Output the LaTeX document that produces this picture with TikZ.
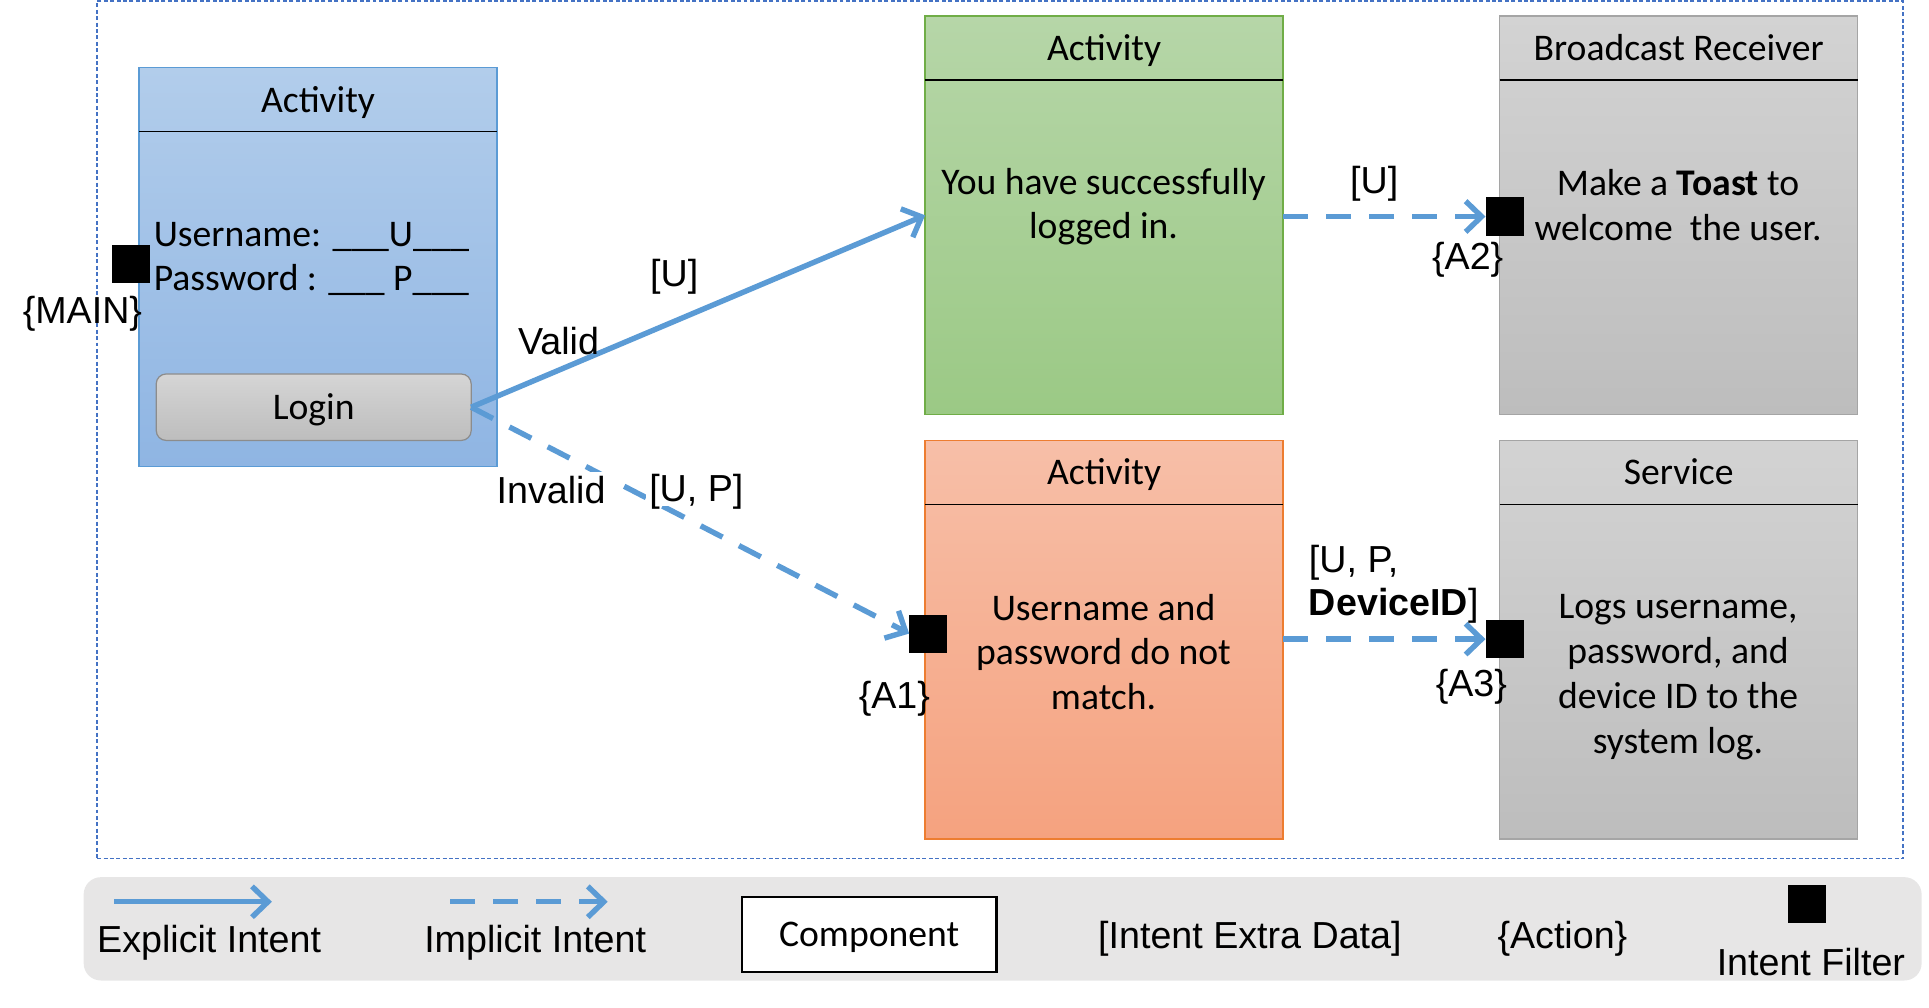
\documentclass[tikz,border=0pt]{standalone}
\usepackage{fontspec}
\setmainfont{Carlito}
\newfontfamily\arial{Liberation Sans}
\usetikzlibrary{arrows.meta,shadings}
\definecolor{arrowblue}{HTML}{5B9BD5}
\definecolor{frameblue}{HTML}{4472C4}
\definecolor{bluetop}{HTML}{B2CDEB}
\definecolor{bluebot}{HTML}{8FB5E3}
\definecolor{blueedge}{HTML}{5B9BD5}
\definecolor{greentop}{HTML}{B6D6A8}
\definecolor{greenbot}{HTML}{9BC985}
\definecolor{greenedge}{HTML}{70AD47}
\definecolor{orangetop}{HTML}{F7BFA8}
\definecolor{orangebot}{HTML}{F5A27F}
\definecolor{orangeedge}{HTML}{ED7D31}
\definecolor{graytop}{HTML}{D3D3D3}
\definecolor{graybot}{HTML}{BDBDBD}
\definecolor{grayedge}{HTML}{A5A5A5}
\definecolor{legendbg}{HTML}{E7E6E6}
\begin{document}
\begin{tikzpicture}[x=0.5pt,y=-0.5pt,
  every node/.style={inner sep=0pt,outer sep=0pt},
  calfont/.style={font=\fontsize{15.3}{18.2}\selectfont},
  ctx/.style={calfont, text height=10.2pt, text depth=0pt},
  arlfont/.style={font=\arial\fontsize{15.3}{17.5}\selectfont},
  compbox/.style={draw=#1edge, top color=#1top, bottom color=#1bot, line width=0.6pt,
    minimum width=145.5pt, minimum height=162pt, anchor=north west},
  hdrline/.style={line width=0.6pt, black},
  filter/.style={fill=black, minimum size=15.5pt},
  explicit/.style={draw=arrowblue, line width=2.2pt, -{Straight Barb[length=6.5pt,width=12.5pt]}},
  implicit/.style={explicit, dash pattern=on 10pt off 7.5pt},
  lbl/.style={arlfont, text height=11pt, text depth=0pt},
  lblw/.style={lbl, fill=white, inner sep=1.5pt},
  bodytext/.style={calfont, align=center},
]
\useasboundingbox (0,0) rectangle (1568,819);

% outer dashed frame
\node[draw=frameblue, line width=0.6pt, dash pattern=on 1.6pt off 1pt,
  minimum width=734pt, minimum height=348.5pt, anchor=north west] (frame) at (79,1) {};

% components
\node[compbox=blue] (blue) at (113,55) {};
\node[compbox=green] (green) at (752,13) {};
\node[compbox=gray] (bcast) at (1219,13) {};
\node[compbox=orange] (orange) at (752,358) {};
\node[compbox=gray] (service) at (1219,358) {};

\foreach \b in {blue,green,bcast,orange,service}{
  \draw[hdrline] ([yshift=-26pt]\b.north west) -- ([yshift=-26pt]\b.north east);
}

\node[ctx] (bluehdr) at ([yshift=-13pt]blue.north) {Activity};
\node[ctx] (greenhdr) at ([yshift=-13pt]green.north) {Activity};
\node[ctx] (bcasthdr) at ([yshift=-13pt]bcast.north) {Broadcast Receiver};
\node[ctx] (orangehdr) at ([yshift=-13pt]orange.north) {Activity};
\node[ctx] (servicehdr) at ([yshift=-13pt]service.north) {Service};

% blue body
\node[calfont, anchor=base west] (user) at (125,200) {Username: \_\_\_U\_\_\_};
\node[calfont, anchor=base west] (pass) at (125,236) {Password : \_\_\_ P\_\_\_};
\node[draw=grayedge!85!black, line width=0.5pt, top color=graytop!95!white, bottom color=graybot,
  rounded corners=4pt, minimum width=128pt, minimum height=27pt] (login) at (255,331) {};
\node[ctx] (logintxt) at (login.center) {Login};

% bodies
\node[bodytext] (greenbody) at (897,168) {You have successfully\\logged in.};
\node[bodytext] (bcastbody) at (1364,167) {Make a \textbf{Toast} to\\welcome\ \ the user.};
\node[bodytext] (orangebody) at (897,530) {Username and\\password do not\\match.};
\node[bodytext] (servicebody) at (1364,550.5) {Logs username,\\password, and\\device ID to the\\system log.};

% intent filters
\node[filter] (main) at (106.5,214.5) {};
\node[filter] (a1) at (754.5,515) {};
\node[filter] (a2) at (1223,176) {};
\node[filter] (a3) at (1223,519.5) {};

% connectors
\draw[explicit] (login.east) -- (green.west);
\draw[implicit] (login.east) -- (a1.west);
\draw[implicit] (green.east |- a2.west) -- (a2.west);
\draw[implicit] (orange.east |- a3.west) -- (a3.west);

% labels
\node[lbl] (mainlbl) at (67,252) {\{MAIN\}};
\node[lbl] (u1) at (548,222) {[U]};
\node[lbl] (valid) at (454,277) {Valid};
\node[lblw] (invalid) at (448,398) {Invalid};
\node[lblw] (up) at (566,397) {[U, P]};
\node[lbl] (u2) at (1117,146) {[U]};
\node[lbl] (a2lbl) at (1193,208) {\{A2\}};
\node[lbl] (a1lbl) at (727,565) {\{A1\}};
\node[lbl] (a3lbl) at (1196,555) {\{A3\}};
\node[arlfont, align=left, anchor=west] (upd) at (1064,475) {[U, P,\\\textbf{DeviceID}]};

% legend
\node[fill=legendbg, rounded corners=7pt, minimum width=747pt, minimum height=42pt] (legend) at (815,755) {};
\coordinate (ex1) at (93,733);
\coordinate (ex2) at (221,733);
\draw[explicit] (ex1) -- (ex2);
\node[lbl] (exlbl) at (170,763) {Explicit Intent};
\coordinate (im1) at (366,733);
\coordinate (im2) at (494,733);
\draw[implicit] (im1) -- (im2);
\node[lbl] (imlbl) at (435,763) {Implicit Intent};
\node[draw=black, line width=1pt, fill=white, minimum width=103.5pt, minimum height=30.5pt] (compbox) at (706.5,759.5) {};
\node[ctx] (complbl) at (compbox.center) {Component};
\node[lbl] (extralbl) at (1016,760) {[Intent Extra Data]};
\node[lbl] (actionlbl) at (1270,760) {\{Action\}};
\node[filter] (legfilter) at (1469,735) {};
\node[lbl] (filterlbl) at (1472,782) {Intent Filter};
\end{tikzpicture}
\end{document}
